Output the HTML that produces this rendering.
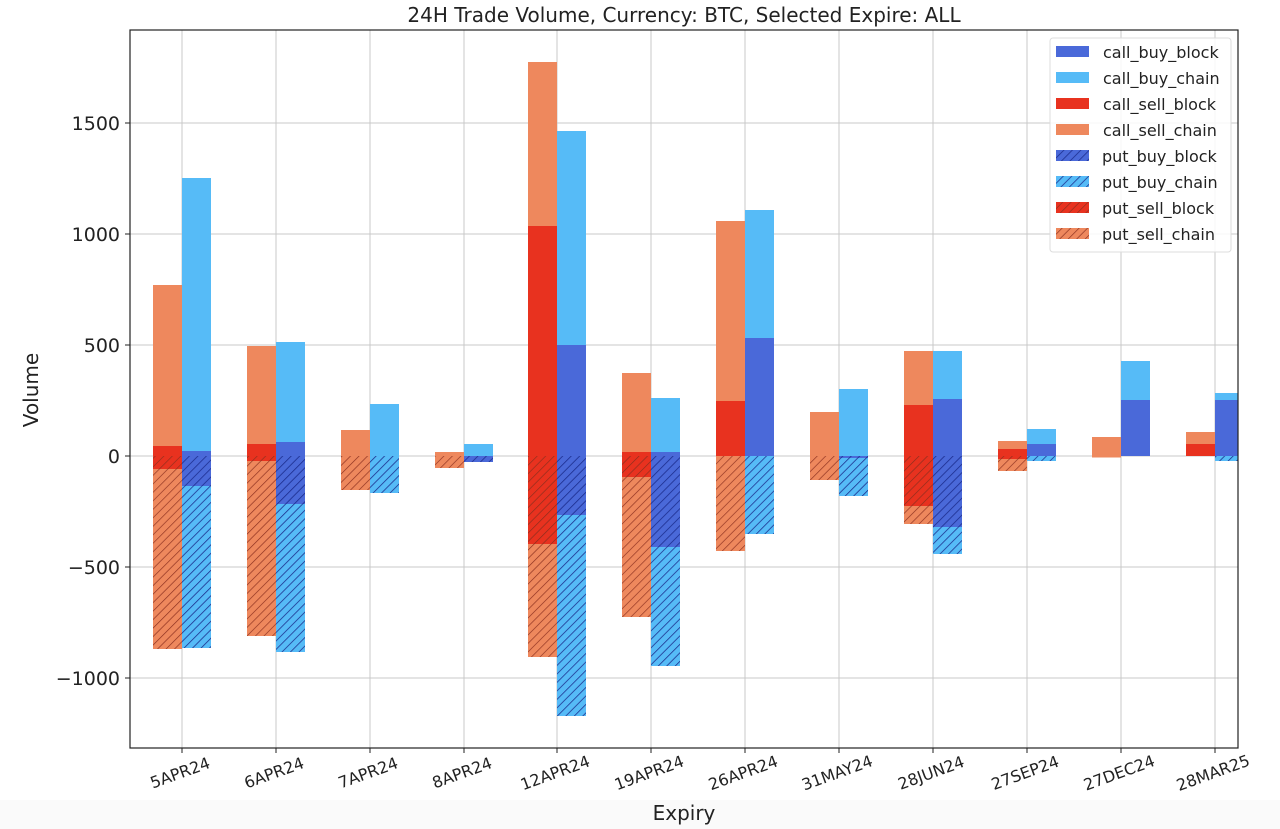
<!DOCTYPE html>
<html><head><meta charset="utf-8"><style>
body{margin:0;background:#fff;}
svg{display:block;font-family:"DejaVu Sans","Liberation Sans",sans-serif;}
</style></head><body>
<svg width="1280" height="829" viewBox="0 0 1280 829" xmlns="http://www.w3.org/2000/svg">
<defs>
<pattern id="hb" patternUnits="userSpaceOnUse" width="6" height="6" patternTransform="rotate(45)">
<line x1="0" y1="0" x2="0" y2="6" stroke="#1a2a8a" stroke-width="1.5"/></pattern>
<pattern id="hr" patternUnits="userSpaceOnUse" width="6" height="6" patternTransform="rotate(45)">
<line x1="0" y1="0" x2="0" y2="6" stroke="#8a2e1e" stroke-width="1.3"/></pattern>
</defs>
<rect width="1280" height="829" fill="#fff"/>
<rect x="0" y="800" width="1280" height="29" fill="#fafafa"/>
<rect x="130" y="30" width="1108" height="718" fill="#fff"/>
<g stroke="#c8c8c8" stroke-width="1">
<line x1="130" y1="123" x2="1238" y2="123"/><line x1="130" y1="234" x2="1238" y2="234"/><line x1="130" y1="345" x2="1238" y2="345"/><line x1="130" y1="456" x2="1238" y2="456"/><line x1="130" y1="567" x2="1238" y2="567"/><line x1="130" y1="678" x2="1238" y2="678"/>
<line x1="182" y1="30" x2="182" y2="748"/><line x1="276" y1="30" x2="276" y2="748"/><line x1="370" y1="30" x2="370" y2="748"/><line x1="464" y1="30" x2="464" y2="748"/><line x1="557" y1="30" x2="557" y2="748"/><line x1="651" y1="30" x2="651" y2="748"/><line x1="745" y1="30" x2="745" y2="748"/><line x1="839" y1="30" x2="839" y2="748"/><line x1="933" y1="30" x2="933" y2="748"/><line x1="1027" y1="30" x2="1027" y2="748"/><line x1="1121" y1="30" x2="1121" y2="748"/><line x1="1215" y1="30" x2="1215" y2="748"/>
</g>
<g>
<rect x="153" y="285" width="29" height="161" fill="#ee885d"/><rect x="153" y="446" width="29" height="10" fill="#e8321f"/>
<rect x="153" y="456" width="29" height="13" fill="#e8321f"/><rect x="153" y="469" width="29" height="180" fill="#ee885d"/><rect x="153" y="456" width="29" height="193" fill="url(#hr)"/>
<rect x="182" y="178" width="29" height="273" fill="#56bbf7"/><rect x="182" y="451" width="29" height="5" fill="#4a69d9"/>
<rect x="182" y="456" width="29" height="30" fill="#4a69d9"/><rect x="182" y="486" width="29" height="162" fill="#56bbf7"/><rect x="182" y="456" width="29" height="192" fill="url(#hb)"/>
<rect x="247" y="346" width="29" height="98" fill="#ee885d"/><rect x="247" y="444" width="29" height="12" fill="#e8321f"/>
<rect x="247" y="456" width="29" height="5" fill="#e8321f"/><rect x="247" y="461" width="29" height="175" fill="#ee885d"/><rect x="247" y="456" width="29" height="180" fill="url(#hr)"/>
<rect x="276" y="342" width="29" height="100" fill="#56bbf7"/><rect x="276" y="442" width="29" height="14" fill="#4a69d9"/>
<rect x="276" y="456" width="29" height="48" fill="#4a69d9"/><rect x="276" y="504" width="29" height="148" fill="#56bbf7"/><rect x="276" y="456" width="29" height="196" fill="url(#hb)"/>
<rect x="341" y="430" width="29" height="26" fill="#ee885d"/>
<rect x="341" y="456" width="29" height="34" fill="#ee885d"/><rect x="341" y="456" width="29" height="34" fill="url(#hr)"/>
<rect x="370" y="404" width="29" height="52" fill="#56bbf7"/>
<rect x="370" y="456" width="29" height="37" fill="#56bbf7"/><rect x="370" y="456" width="29" height="37" fill="url(#hb)"/>
<rect x="435" y="452" width="29" height="4" fill="#ee885d"/>
<rect x="435" y="456" width="29" height="12" fill="#ee885d"/><rect x="435" y="456" width="29" height="12" fill="url(#hr)"/>
<rect x="464" y="444" width="29" height="12" fill="#56bbf7"/>
<rect x="464" y="456" width="29" height="6" fill="#4a69d9"/><rect x="464" y="456" width="29" height="6" fill="url(#hb)"/>
<rect x="528" y="62" width="29" height="164" fill="#ee885d"/><rect x="528" y="226" width="29" height="230" fill="#e8321f"/>
<rect x="528" y="456" width="29" height="88" fill="#e8321f"/><rect x="528" y="544" width="29" height="113" fill="#ee885d"/><rect x="528" y="456" width="29" height="201" fill="url(#hr)"/>
<rect x="557" y="131" width="29" height="214" fill="#56bbf7"/><rect x="557" y="345" width="29" height="111" fill="#4a69d9"/>
<rect x="557" y="456" width="29" height="59" fill="#4a69d9"/><rect x="557" y="515" width="29" height="201" fill="#56bbf7"/><rect x="557" y="456" width="29" height="260" fill="url(#hb)"/>
<rect x="622" y="373" width="29" height="79" fill="#ee885d"/><rect x="622" y="452" width="29" height="4" fill="#e8321f"/>
<rect x="622" y="456" width="29" height="21" fill="#e8321f"/><rect x="622" y="477" width="29" height="140" fill="#ee885d"/><rect x="622" y="456" width="29" height="161" fill="url(#hr)"/>
<rect x="651" y="398" width="29" height="54" fill="#56bbf7"/><rect x="651" y="452" width="29" height="4" fill="#4a69d9"/>
<rect x="651" y="456" width="29" height="91" fill="#4a69d9"/><rect x="651" y="547" width="29" height="119" fill="#56bbf7"/><rect x="651" y="456" width="29" height="210" fill="url(#hb)"/>
<rect x="716" y="221" width="29" height="180" fill="#ee885d"/><rect x="716" y="401" width="29" height="55" fill="#e8321f"/>
<rect x="716" y="456" width="29" height="95" fill="#ee885d"/><rect x="716" y="456" width="29" height="95" fill="url(#hr)"/>
<rect x="745" y="210" width="29" height="128" fill="#56bbf7"/><rect x="745" y="338" width="29" height="118" fill="#4a69d9"/>
<rect x="745" y="456" width="29" height="78" fill="#56bbf7"/><rect x="745" y="456" width="29" height="78" fill="url(#hb)"/>
<rect x="810" y="412" width="29" height="44" fill="#ee885d"/>
<rect x="810" y="456" width="29" height="24" fill="#ee885d"/><rect x="810" y="456" width="29" height="24" fill="url(#hr)"/>
<rect x="839" y="389" width="29" height="67" fill="#56bbf7"/>
<rect x="839" y="456" width="29" height="2" fill="#4a69d9"/><rect x="839" y="458" width="29" height="38" fill="#56bbf7"/><rect x="839" y="456" width="29" height="40" fill="url(#hb)"/>
<rect x="904" y="351" width="29" height="54" fill="#ee885d"/><rect x="904" y="405" width="29" height="51" fill="#e8321f"/>
<rect x="904" y="456" width="29" height="50" fill="#e8321f"/><rect x="904" y="506" width="29" height="18" fill="#ee885d"/><rect x="904" y="456" width="29" height="68" fill="url(#hr)"/>
<rect x="933" y="351" width="29" height="48" fill="#56bbf7"/><rect x="933" y="399" width="29" height="57" fill="#4a69d9"/>
<rect x="933" y="456" width="29" height="71" fill="#4a69d9"/><rect x="933" y="527" width="29" height="27" fill="#56bbf7"/><rect x="933" y="456" width="29" height="98" fill="url(#hb)"/>
<rect x="998" y="441" width="29" height="8" fill="#ee885d"/><rect x="998" y="449" width="29" height="7" fill="#e8321f"/>
<rect x="998" y="456" width="29" height="3" fill="#e8321f"/><rect x="998" y="459" width="29" height="12" fill="#ee885d"/><rect x="998" y="456" width="29" height="15" fill="url(#hr)"/>
<rect x="1027" y="429" width="29" height="15" fill="#56bbf7"/><rect x="1027" y="444" width="29" height="12" fill="#4a69d9"/>
<rect x="1027" y="456" width="29" height="5" fill="#56bbf7"/><rect x="1027" y="456" width="29" height="5" fill="url(#hb)"/>
<rect x="1092" y="437" width="29" height="19" fill="#ee885d"/>
<rect x="1092" y="456" width="29" height="1.5" fill="#ee885d"/>
<rect x="1121" y="361" width="29" height="39" fill="#56bbf7"/><rect x="1121" y="400" width="29" height="56" fill="#4a69d9"/>
<rect x="1186" y="432" width="29" height="12" fill="#ee885d"/><rect x="1186" y="444" width="29" height="12" fill="#e8321f"/>
<rect x="1215" y="393" width="23" height="7" fill="#56bbf7"/><rect x="1215" y="400" width="23" height="56" fill="#4a69d9"/>
<rect x="1215" y="456" width="23" height="5" fill="#56bbf7"/><rect x="1215" y="456" width="23" height="5" fill="url(#hb)"/>
</g>
<rect x="130" y="30" width="1108" height="718" fill="none" stroke="#222" stroke-width="1.2"/>
<g stroke="#222"><line x1="125" y1="123" x2="130" y2="123"/><line x1="125" y1="234" x2="130" y2="234"/><line x1="125" y1="345" x2="130" y2="345"/><line x1="125" y1="456" x2="130" y2="456"/><line x1="125" y1="567" x2="130" y2="567"/><line x1="125" y1="678" x2="130" y2="678"/>
<line x1="182" y1="748" x2="182" y2="753"/><line x1="276" y1="748" x2="276" y2="753"/><line x1="370" y1="748" x2="370" y2="753"/><line x1="464" y1="748" x2="464" y2="753"/><line x1="557" y1="748" x2="557" y2="753"/><line x1="651" y1="748" x2="651" y2="753"/><line x1="745" y1="748" x2="745" y2="753"/><line x1="839" y1="748" x2="839" y2="753"/><line x1="933" y1="748" x2="933" y2="753"/><line x1="1027" y1="748" x2="1027" y2="753"/><line x1="1121" y1="748" x2="1121" y2="753"/><line x1="1215" y1="748" x2="1215" y2="753"/></g>
<g font-size="19" fill="#222" text-anchor="end">
<text x="120" y="130">1500</text><text x="120" y="241">1000</text><text x="120" y="352">500</text><text x="120" y="463">0</text><text x="120" y="574">−500</text><text x="120" y="685">−1000</text>
</g>
<g font-size="16" fill="#222" text-anchor="middle">
<text transform="translate(182,778) rotate(-20)">5APR24</text>
<text transform="translate(276,778) rotate(-20)">6APR24</text>
<text transform="translate(370,778) rotate(-20)">7APR24</text>
<text transform="translate(464,778) rotate(-20)">8APR24</text>
<text transform="translate(557,778) rotate(-20)">12APR24</text>
<text transform="translate(651,778) rotate(-20)">19APR24</text>
<text transform="translate(745,778) rotate(-20)">26APR24</text>
<text transform="translate(839,778) rotate(-20)">31MAY24</text>
<text transform="translate(933,778) rotate(-20)">28JUN24</text>
<text transform="translate(1027,778) rotate(-20)">27SEP24</text>
<text transform="translate(1121,778) rotate(-20)">27DEC24</text>
<text transform="translate(1215,778) rotate(-20)">28MAR25</text>
</g>
<text x="684" y="22" font-size="20" fill="#222" text-anchor="middle">24H Trade Volume, Currency: BTC, Selected Expire: ALL</text>
<text x="684" y="820" font-size="20" fill="#222" text-anchor="middle">Expiry</text>
<text transform="translate(38,390) rotate(-90)" font-size="20" fill="#222" text-anchor="middle">Volume</text>
<rect x="1050" y="38" width="181" height="214" rx="3" fill="#fff" fill-opacity="0.85" stroke="#ddd"/>
<g>
<rect x="1056" y="46" width="33" height="11" fill="#4a69d9"/>
<rect x="1056" y="72" width="33" height="11" fill="#56bbf7"/>
<rect x="1056" y="98" width="33" height="11" fill="#e8321f"/>
<rect x="1056" y="124" width="33" height="11" fill="#ee885d"/>
<rect x="1056" y="150" width="33" height="11" fill="#4a69d9"/><rect x="1056" y="150" width="33" height="11" fill="url(#hb)"/>
<rect x="1056" y="176" width="33" height="11" fill="#56bbf7"/><rect x="1056" y="176" width="33" height="11" fill="url(#hb)"/>
<rect x="1056" y="202" width="33" height="11" fill="#e8321f"/><rect x="1056" y="202" width="33" height="11" fill="url(#hr)"/>
<rect x="1056" y="228" width="33" height="11" fill="#ee885d"/><rect x="1056" y="228" width="33" height="11" fill="url(#hr)"/>
</g>
<g font-size="16" fill="#222">
<text x="1103" y="58">call_buy_block</text>
<text x="1103" y="84">call_buy_chain</text>
<text x="1103" y="110">call_sell_block</text>
<text x="1103" y="136">call_sell_chain</text>
<text x="1102" y="162">put_buy_block</text>
<text x="1102" y="188">put_buy_chain</text>
<text x="1102" y="214">put_sell_block</text>
<text x="1102" y="240">put_sell_chain</text>
</g>
</svg>
</body></html>
